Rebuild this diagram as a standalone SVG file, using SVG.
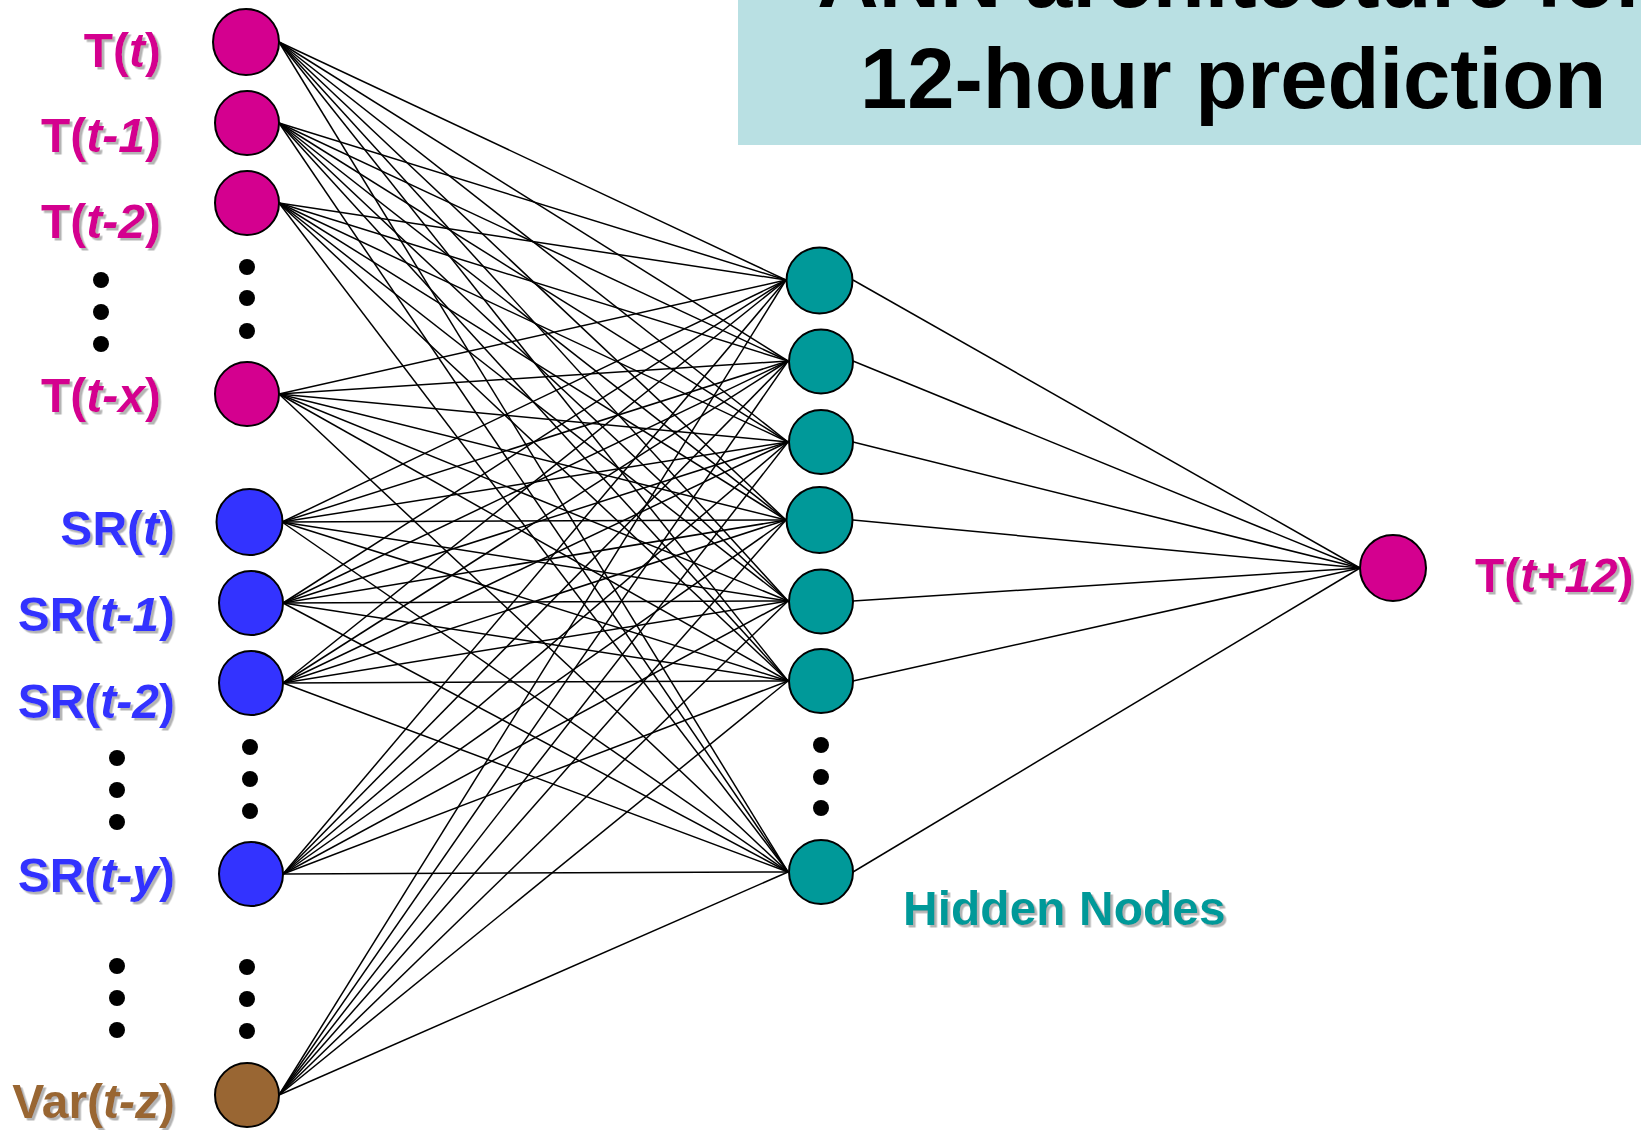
<svg xmlns="http://www.w3.org/2000/svg" width="1641" height="1130" viewBox="0 0 1641 1130">
<defs>
<filter id="sh" x="-10%" y="-10%" width="130%" height="140%"><feDropShadow dx="2.5" dy="2.5" stdDeviation="0.6" flood-color="#b4b4b4" flood-opacity="1"/></filter>
<style>
.lbl{font-family:"Liberation Sans",Arial,sans-serif;font-weight:bold;font-size:48px;filter:url(#sh)}
.it{font-style:italic}
.mag{fill:#D4008F}
.blu{fill:#3333FF}
.brn{fill:#996633}
.tea{fill:#009999}
.node{stroke:#000;stroke-width:2}
.dot{fill:#000}
.conn line{stroke:#000;stroke-width:1.5}
.title{font-family:"Liberation Sans",Arial,sans-serif;font-weight:bold;font-size:85px;fill:#000;text-anchor:middle}
</style>
</defs>
<rect width="1641" height="1130" fill="#fff"/>
<g id="title">
<rect x="738" y="0" width="903" height="145" fill="#B9E0E3"/>
<text class="title" x="1233" y="7">ANN architecture for</text>
<text class="title" x="1233" y="108">12-hour prediction</text>
</g>
<g id="connectors" class="conn">
<line x1="279" y1="42" x2="786" y2="280"/><line x1="279" y1="42" x2="788" y2="361"/><line x1="279" y1="42" x2="788" y2="442"/><line x1="279" y1="42" x2="786" y2="520"/><line x1="279" y1="42" x2="788" y2="601"/><line x1="279" y1="42" x2="788" y2="681"/><line x1="279" y1="42" x2="788" y2="872"/>
<line x1="279" y1="123" x2="786" y2="280"/><line x1="279" y1="123" x2="788" y2="361"/><line x1="279" y1="123" x2="788" y2="442"/><line x1="279" y1="123" x2="786" y2="520"/><line x1="279" y1="123" x2="788" y2="601"/><line x1="279" y1="123" x2="788" y2="681"/><line x1="279" y1="123" x2="788" y2="872"/>
<line x1="279" y1="203" x2="786" y2="280"/><line x1="279" y1="203" x2="788" y2="361"/><line x1="279" y1="203" x2="788" y2="442"/><line x1="279" y1="203" x2="786" y2="520"/><line x1="279" y1="203" x2="788" y2="601"/><line x1="279" y1="203" x2="788" y2="681"/><line x1="279" y1="203" x2="788" y2="872"/>
<line x1="279" y1="394" x2="786" y2="280"/><line x1="279" y1="394" x2="788" y2="361"/><line x1="279" y1="394" x2="788" y2="442"/><line x1="279" y1="394" x2="786" y2="520"/><line x1="279" y1="394" x2="788" y2="601"/><line x1="279" y1="394" x2="788" y2="681"/><line x1="279" y1="394" x2="788" y2="872"/>
<line x1="282" y1="522" x2="786" y2="280"/><line x1="282" y1="522" x2="788" y2="361"/><line x1="282" y1="522" x2="788" y2="442"/><line x1="282" y1="522" x2="786" y2="520"/><line x1="282" y1="522" x2="788" y2="601"/><line x1="282" y1="522" x2="788" y2="681"/><line x1="282" y1="522" x2="788" y2="872"/>
<line x1="283" y1="603" x2="786" y2="280"/><line x1="283" y1="603" x2="788" y2="361"/><line x1="283" y1="603" x2="788" y2="442"/><line x1="283" y1="603" x2="786" y2="520"/><line x1="283" y1="603" x2="788" y2="601"/><line x1="283" y1="603" x2="788" y2="681"/><line x1="283" y1="603" x2="788" y2="872"/>
<line x1="283" y1="683" x2="786" y2="280"/><line x1="283" y1="683" x2="788" y2="361"/><line x1="283" y1="683" x2="788" y2="442"/><line x1="283" y1="683" x2="786" y2="520"/><line x1="283" y1="683" x2="788" y2="601"/><line x1="283" y1="683" x2="788" y2="681"/><line x1="283" y1="683" x2="788" y2="872"/>
<line x1="283" y1="874" x2="786" y2="280"/><line x1="283" y1="874" x2="788" y2="361"/><line x1="283" y1="874" x2="788" y2="442"/><line x1="283" y1="874" x2="786" y2="520"/><line x1="283" y1="874" x2="788" y2="601"/><line x1="283" y1="874" x2="788" y2="681"/><line x1="283" y1="874" x2="788" y2="872"/>
<line x1="279" y1="1095" x2="786" y2="280"/><line x1="279" y1="1095" x2="788" y2="361"/><line x1="279" y1="1095" x2="788" y2="442"/><line x1="279" y1="1095" x2="786" y2="520"/><line x1="279" y1="1095" x2="788" y2="601"/><line x1="279" y1="1095" x2="788" y2="681"/><line x1="279" y1="1095" x2="788" y2="872"/>
<line x1="853" y1="280" x2="1360" y2="568"/><line x1="853" y1="361" x2="1360" y2="568"/><line x1="853" y1="442" x2="1360" y2="568"/><line x1="853" y1="520" x2="1360" y2="568"/><line x1="853" y1="601" x2="1360" y2="568"/><line x1="853" y1="681" x2="1360" y2="568"/><line x1="853" y1="872" x2="1360" y2="568"/>
</g>
<g id="in-T-t"><circle class="node mag" cx="246" cy="42" r="33"/><text class="lbl mag" x="161" y="67" text-anchor="end">T(<tspan class="it">t</tspan>)</text></g>
<g id="in-T-t1"><circle class="node mag" cx="247" cy="123" r="32"/><text class="lbl mag" x="161" y="152" text-anchor="end">T(<tspan class="it">t-1</tspan>)</text></g>
<g id="in-T-t2"><circle class="node mag" cx="247" cy="203" r="32"/><text class="lbl mag" x="161" y="238" text-anchor="end">T(<tspan class="it">t-2</tspan>)</text></g>
<g id="dots-T"><circle class="dot" cx="101" cy="280" r="8"/><circle class="dot" cx="101" cy="312" r="8"/><circle class="dot" cx="101" cy="344" r="8"/><circle class="dot" cx="247" cy="267" r="8"/><circle class="dot" cx="247" cy="298" r="8"/><circle class="dot" cx="247" cy="331" r="8"/></g>
<g id="in-T-tx"><circle class="node mag" cx="247" cy="394" r="32"/><text class="lbl mag" x="161" y="412" text-anchor="end">T(<tspan class="it">t-x</tspan>)</text></g>
<g id="in-SR-t"><circle class="node blu" cx="249.5" cy="522" r="33"/><text class="lbl blu" x="175" y="545" text-anchor="end">SR(<tspan class="it">t</tspan>)</text></g>
<g id="in-SR-t1"><circle class="node blu" cx="251" cy="603" r="32"/><text class="lbl blu" x="175" y="631" text-anchor="end">SR(<tspan class="it">t-1</tspan>)</text></g>
<g id="in-SR-t2"><circle class="node blu" cx="251" cy="683" r="32"/><text class="lbl blu" x="175" y="718" text-anchor="end">SR(<tspan class="it">t-2</tspan>)</text></g>
<g id="dots-SR"><circle class="dot" cx="117" cy="758" r="8"/><circle class="dot" cx="117" cy="790" r="8"/><circle class="dot" cx="117" cy="822" r="8"/><circle class="dot" cx="250" cy="747" r="8"/><circle class="dot" cx="250" cy="779" r="8"/><circle class="dot" cx="250" cy="811" r="8"/></g>
<g id="in-SR-ty"><circle class="node blu" cx="251" cy="874" r="32"/><text class="lbl blu" x="175" y="892" text-anchor="end">SR(<tspan class="it">t-y</tspan>)</text></g>
<g id="dots-Var"><circle class="dot" cx="117" cy="966" r="8"/><circle class="dot" cx="117" cy="998" r="8"/><circle class="dot" cx="117" cy="1030" r="8"/><circle class="dot" cx="247" cy="967" r="8"/><circle class="dot" cx="247" cy="999" r="8"/><circle class="dot" cx="247" cy="1031" r="8"/></g>
<g id="in-Var-tz"><circle class="node brn" cx="247" cy="1095" r="32"/><text class="lbl brn" x="175" y="1118" text-anchor="end">Var(<tspan class="it">t-z</tspan>)</text></g>
<g id="hidden-1"><circle class="node tea" cx="819.5" cy="280.5" r="33"/></g>
<g id="hidden-2"><circle class="node tea" cx="821" cy="361.5" r="32"/></g>
<g id="hidden-3"><circle class="node tea" cx="821" cy="442" r="32"/></g>
<g id="hidden-4"><circle class="node tea" cx="819.5" cy="520" r="33"/></g>
<g id="hidden-5"><circle class="node tea" cx="821" cy="601.5" r="32"/></g>
<g id="hidden-6"><circle class="node tea" cx="821" cy="681" r="32"/></g>
<g id="dots-hidden"><circle class="dot" cx="821" cy="745" r="8"/><circle class="dot" cx="821" cy="777" r="8"/><circle class="dot" cx="821" cy="808" r="8"/></g>
<g id="hidden-7"><circle class="node tea" cx="821" cy="872" r="32"/></g>
<g id="hidden-label"><text class="lbl tea" x="903" y="925">Hidden Nodes</text></g>
<g id="output"><circle class="node mag" cx="1393" cy="568" r="33"/><text class="lbl mag" x="1475" y="592">T(<tspan class="it">t+12</tspan>)</text></g>
</svg>
